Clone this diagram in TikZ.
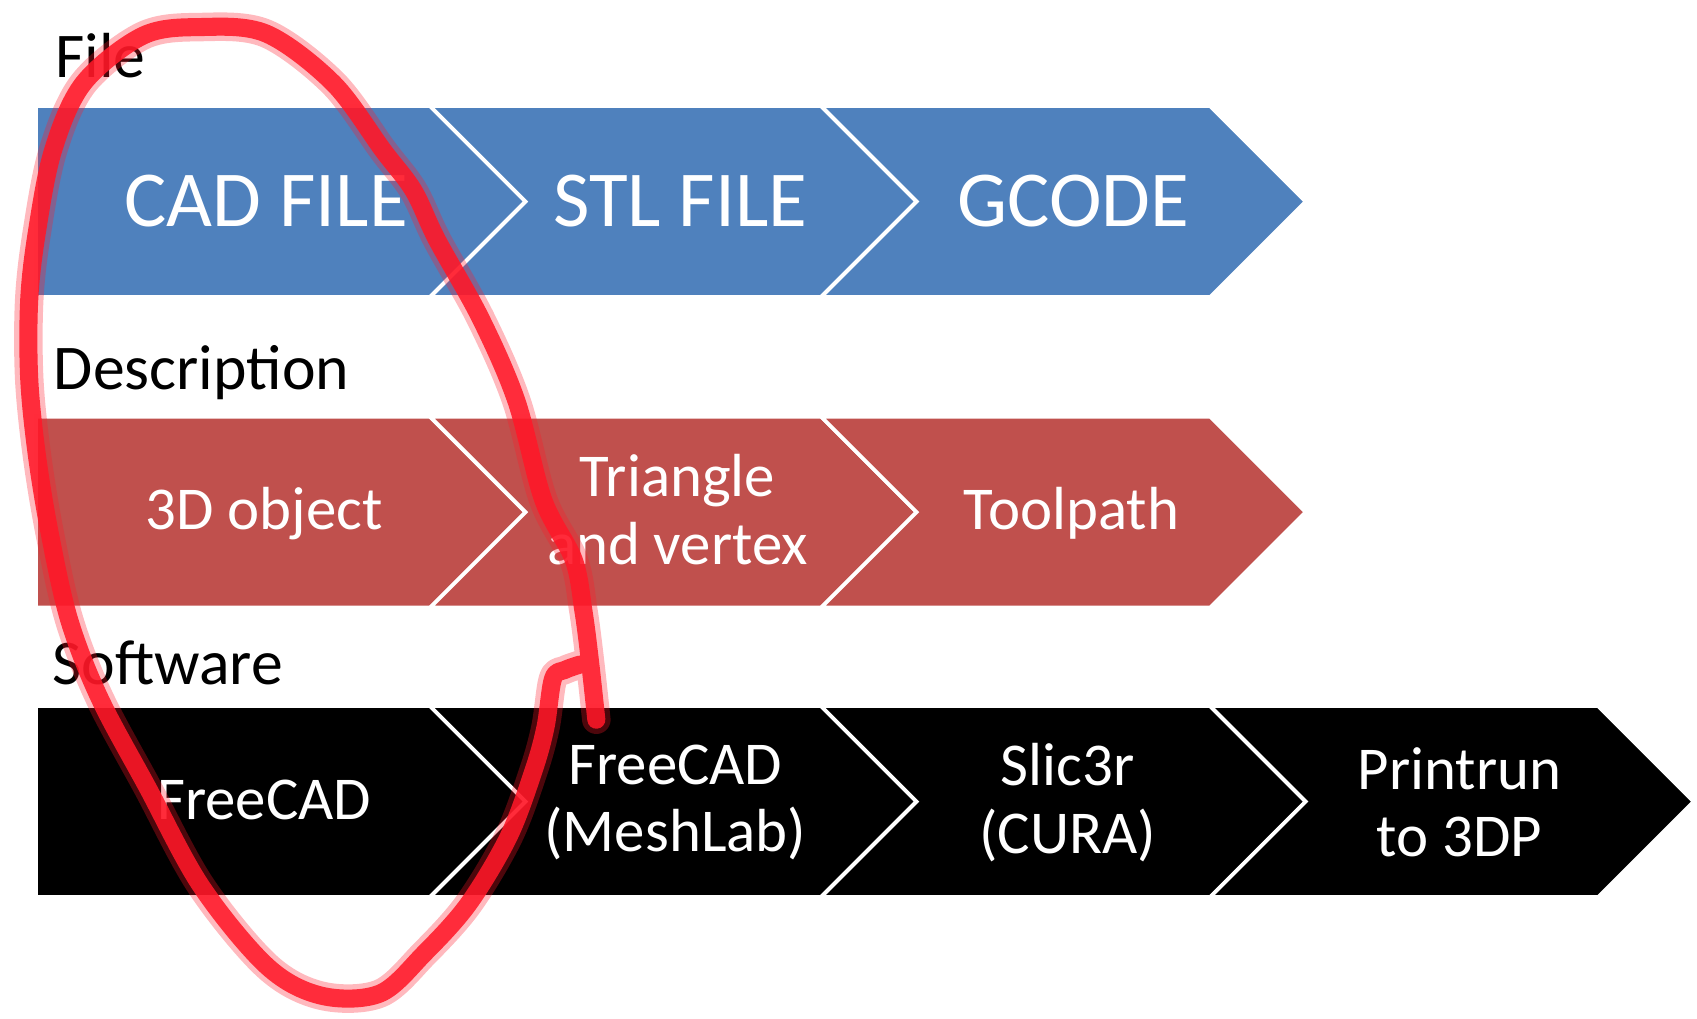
\documentclass[tikz,border=0pt]{standalone}
\usepackage{fontspec}
\setmainfont{Carlito}
\definecolor{cblue}{RGB}{79,129,189}
\definecolor{cred}{RGB}{192,80,77}
\definecolor{scrib}{RGB}{255,24,40}
\begin{document}
\begin{tikzpicture}[x=0.02cm,y=-0.02cm,
  chevbox/.style={line width=2pt, draw=white, line join=miter},
  bigtxt/.style={text=white, font=\fontsize{41.7}{50}\selectfont, anchor=base, inner sep=0pt},
  midtxt/.style={text=white, font=\fontsize{32}{35.5}\selectfont, anchor=base, inner sep=0pt},
  twotxt/.style={text=white, font=\fontsize{32}{35.5}\selectfont, align=center, anchor=center, inner sep=0pt},
  lbl/.style={font=\fontsize{33.5}{40}\selectfont, anchor=base west, inner sep=0pt},
  scribline/.style={draw=scrib, line cap=round, line join=round}]
\useasboundingbox (0,0) rectangle (1568,941.5);

% chevron rows: top y, number of chevrons, colour
\foreach \yt/\n/\col in {98/3/cblue, 385/3/cred, 652.4/4/black} {
  \pgfmathsetmacro\yc{\yt+88.2}
  \pgfmathsetmacro\yb{\yt+176.4}
  \foreach \k/\L/\R in {1/33.3/397.4, 2/397.4/758.7, 3/758.7/1118.2, 4/1118.2/1476.7} {
    \ifnum\k>\n\relax\else
      \pgfmathsetmacro\T{\R+88.2}
      \pgfmathsetmacro\N{\L+88.2}
      \ifnum\k=1
        \filldraw[chevbox, fill=\col] (\L,\yt) -- (\R,\yt) -- (\T,\yc) -- (\R,\yb) -- (\L,\yb) -- cycle;
      \else
        \filldraw[chevbox, fill=\col] (\L,\yt) -- (\R,\yt) -- (\T,\yc) -- (\R,\yb) -- (\L,\yb) -- (\N,\yc) -- cycle;
      \fi
    \fi
  }
}

\node[lbl] (lfile) at (51,72) {File};
\node[lbl] (ldesc) at (49.5,360) {Description};
\node[lbl] (lsoft) at (48,632) {Software};

\node[bigtxt] (t11) at (246,209) {CAD FILE};
\node[bigtxt] (t12) at (628.5,209) {STL FILE};
\node[bigtxt] (t13) at (992,209) {GCODE};

\node[midtxt] (t21) at (244,489) {3D object};
\node[twotxt] (t22) at (626,471) {Triangle\\and vertex};
\node[midtxt] (t23) at (990,489) {Toolpath};

\node[midtxt] (t31) at (244,757) {FreeCAD};
\node[twotxt] (t32) at (624,741.5) {FreeCAD\\(MeshLab)};
\node[twotxt] (t33) at (986.5,741.5) {Slic3r\\(CURA)};
\node[twotxt] (t34) at (1348.5,741.5) {Printrun\\to 3DP};

\def\scribpath{plot[smooth, tension=0.55] coordinates {
  (551,665) (545,610) (539,564) (530,517) (502,462) (477,370) (444,294)
  (404,222) (382,176) (354,139) (308,77) (246,31) (185,25) (132,33)
  (77,77) (49,139) (34,215) (27,277) (27,350) (34,420) (46,493) (64,573)
  (92,645) (136,727) (186,819) (247,893) (297,920) (351,918) (392,881)
  (433,835) (470,773) (493,712) (504,672) (511,627) (522,619) (536,614)}}
\draw[scribline, line width=15pt, opacity=0.3] \scribpath;
\draw[scribline, line width=9.5pt, opacity=0.88] \scribpath;
\end{tikzpicture}
\end{document}
